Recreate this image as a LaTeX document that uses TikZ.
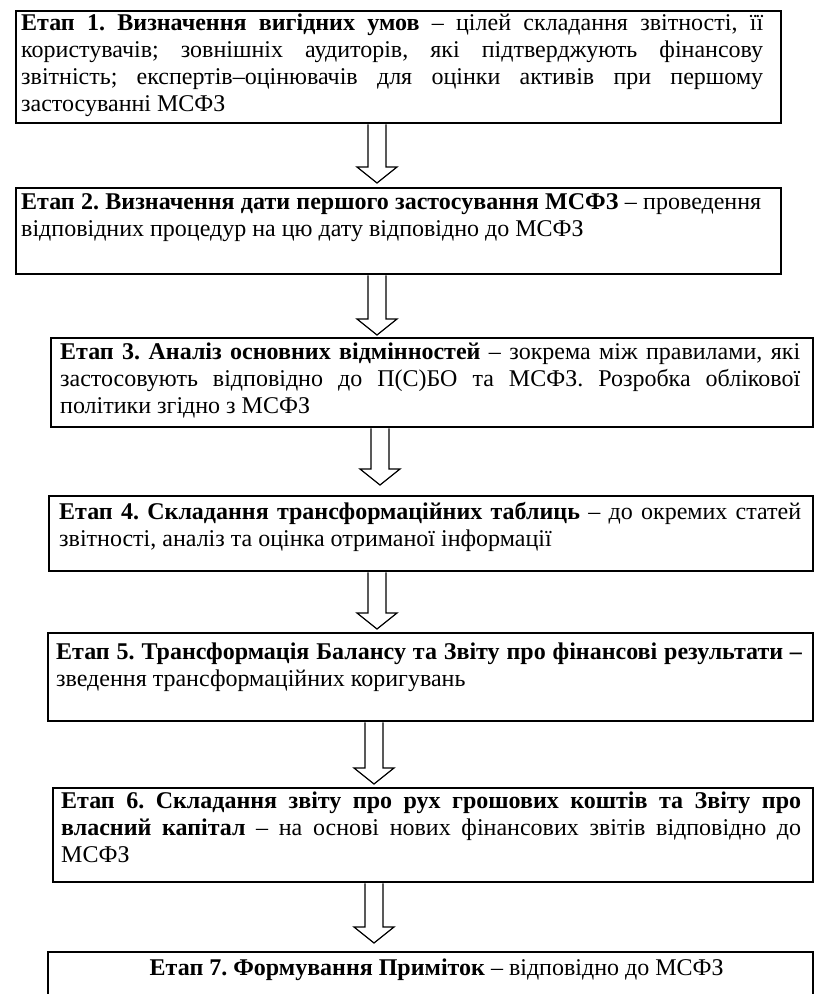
\documentclass[tikz,border=0pt]{standalone}
\usepackage{fontspec}
\setmainfont{Liberation Serif}
\usetikzlibrary{calc}
\newlength\jlw
\newcommand\jl[1]{\leavevmode\hbox to \jlw{#1}\\}
\newcommand\jset[1]{\setlength{\jlw}{#1}\spaceskip=0.25em plus 1em minus 0.12em\relax}
\newcommand\blockarrow[4]{% x-coordinate, from, to, gap
  \path (#2.south -| #1) coordinate (T)
        ($(#3.north -| #1)+(0,-#4)$) coordinate (P)
        ($(P)+(0,-16)$) coordinate (H);
  \draw[blockarr] ($(T)+(-9,0)$) -- ($(H)+(-9,0)$) -- ($(H)+(-20,0)$) -- (P)
     -- ($(H)+(20,0)$) -- ($(H)+(9,0)$) -- ($(T)+(9,0)$);}
\frenchspacing
\begin{document}
\begin{tikzpicture}[x=1pt,y=-1pt,
  stagebox/.style={draw, line width=2.4pt, anchor=north west, inner sep=0pt},
  stagetext/.style={anchor=base west, inner sep=0pt, align=left,
    font=\fontsize{24}{27}\selectfont},
  blockarr/.style={draw, line width=1.2pt, line join=miter}]
\useasboundingbox (0,0) rectangle (822,994);
\clip (0,0) rectangle (822,994);
% boxes
\node[stagebox, minimum width=765pt, minimum height=112pt] (b1) at (15,10) {};
\node[stagebox, minimum width=765pt, minimum height=86pt] (b2) at (15,187) {};
\node[stagebox, minimum width=762pt, minimum height=89pt] (b3) at (50,337) {};
\node[stagebox, minimum width=764pt, minimum height=75pt] (b4) at (48,495) {};
\node[stagebox, minimum width=765pt, minimum height=88pt] (b5) at (47,632) {};
\node[stagebox, minimum width=760pt, minimum height=94pt] (b6) at (52,787) {};
\node[stagebox, minimum width=765pt, minimum height=80pt] (b7) at (47,951) {};
% texts
\node[stagetext, text width=742pt] (t1) at ($(b1.north west)+(6,20)$) {\jset{742pt}%
\jl{\textbf{Етап 1. Визначення вигідних умов} – цілей складання звітності, її}%
\jl{користувачів; зовнішніх аудиторів, які підтверджують фінансову}%
\jl{звітність; експертів–оцінювачів для оцінки активів при першому}%
застосуванні МСФЗ};
\node[stagetext, text width=740pt] (t2) at ($(b2.north west)+(6,22)$) {\jset{740pt}%
\jl{\textbf{Етап 2. Визначення дати першого застосування МСФЗ} – проведення}%
відповідних процедур на цю дату відповідно до МСФЗ};
\node[stagetext, text width=740pt] (t3) at ($(b3.north west)+(10,22)$) {\jset{740pt}%
\jl{\textbf{Етап 3. Аналіз основних відмінностей} – зокрема між правилами, які}%
\jl{застосовують відповідно до П(С)БО та МСФЗ. Розробка облікової}%
політики згідно з МСФЗ};
\node[stagetext, text width=742pt] (t4) at ($(b4.north west)+(11,24)$) {\jset{742pt}%
\jl{\textbf{Етап 4. Складання трансформаційних таблиць} – до окремих статей}%
звітності, аналіз та оцінка отриманої інформації};
\node[stagetext, text width=746pt] (t5) at ($(b5.north west)+(9,27)$) {\jset{746pt}%
\jl{\textbf{Етап 5. Трансформація Балансу та Звіту про фінансові результати –}}%
зведення трансформаційних коригувань};
\node[stagetext, text width=740pt] (t6) at ($(b6.north west)+(9,21)$) {\jset{740pt}%
\jl{\textbf{Етап 6. Складання звіту про рух грошових коштів та Звіту про}}%
\jl{\textbf{власний капітал} – на основі нових фінансових звітів відповідно до}%
МСФЗ};
\node[stagetext, anchor=base, align=center] (t7) at ($(b7.north)+(6,24)$) {%
\textbf{Етап 7. Формування Приміток} – відповідно до МСФЗ};
% arrows
\coordinate (xa) at (377,0);
\coordinate (xb) at (380,0);
\coordinate (xc) at (374,0);
\blockarrow{xa}{b1}{b2}{4}
\blockarrow{xa}{b2}{b3}{2}
\blockarrow{xb}{b3}{b4}{10}
\blockarrow{xa}{b4}{b5}{3}
\blockarrow{xc}{b5}{b6}{3}
\blockarrow{xc}{b6}{b7}{8}
\end{tikzpicture}
\end{document}
